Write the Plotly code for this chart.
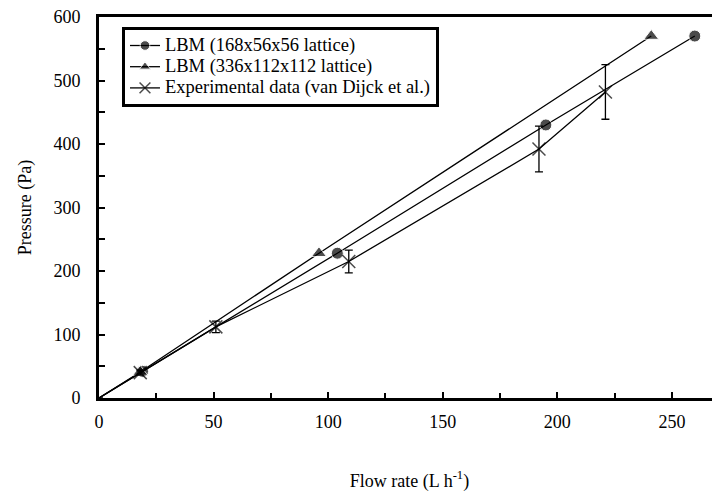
import plotly.graph_objects as go

# LBM 168x56x56 lattice
lbm1_flow = [0, 19, 104, 195, 260]
lbm1_pres = [0, 42, 228, 430, 570]

# LBM 336x112x112 lattice
lbm2_flow = [0, 18, 96, 241]
lbm2_pres = [0, 41, 228, 570]

# Experimental data (van Dijck et al.)
exp_flow = [0, 18, 51, 109, 192, 221]
exp_pres = [0, 40, 112, 215, 392, 482]
exp_err = [0, 4, 9, 18, 36, 43]

series_names = [
    "LBM (168x56x56 lattice)",
    "LBM (336x112x112 lattice)",
    "Experimental data (van Dijck et al.)",
]

x_ticks = [0, 50, 100, 150, 200, 250]
y_ticks = [0, 100, 200, 300, 400, 500, 600]

FONT = "Liberation Serif"


def sizes(n, s):
    return [0] + [s] * (n - 1)


def legend_name(s):
    return '<span style="font-size:18.5px">' + s + "</span>"


fig = go.Figure()
fig.add_trace(go.Scatter(
    x=lbm1_flow, y=lbm1_pres, mode="lines+markers",
    name=legend_name(series_names[0]),
    line=dict(color="black", width=1.3),
    marker=dict(symbol="circle", color="black", size=sizes(len(lbm1_flow), 12)),
))
fig.add_trace(go.Scatter(
    x=lbm2_flow, y=lbm2_pres, mode="lines+markers",
    name=legend_name(series_names[1]),
    line=dict(color="black", width=1.3),
    marker=dict(symbol="triangle-up", color="black", size=sizes(len(lbm2_flow), 13)),
))
fig.add_trace(go.Scatter(
    x=exp_flow, y=exp_pres, mode="lines+markers",
    name=legend_name(series_names[2]),
    line=dict(color="black", width=1.3),
    marker=dict(symbol="x-thin", color="black", size=sizes(len(exp_flow), 13),
                line=dict(color="black", width=1.5)),
    error_y=dict(type="data", array=exp_err, visible=True, color="black",
                 thickness=1.3, width=4),
))

# page body has an 8px margin; figure sized/positioned to compensate
fig.update_layout(
    width=712, height=489,
    margin=dict(l=91, r=0, t=9, b=99, autoexpand=False),
    paper_bgcolor="white", plot_bgcolor="white",
    font=dict(family=FONT, size=18, color="black"),
    showlegend=True,
    legend=dict(
        x=0.037, y=0.974, xanchor="left", yanchor="top",
        bordercolor="black", borderwidth=3, bgcolor="white",
        font=dict(family=FONT, size=14, color="black"),
        itemwidth=30, tracegroupgap=0,
    ),
    xaxis=dict(
        range=[0, 271], tickvals=x_ticks, ticktext=[str(v) for v in x_ticks],
        ticks="inside", ticklen=6, tickwidth=2, tickcolor="black",
        minor=dict(dtick=25, ticks="inside", ticklen=5, tickwidth=2, tickcolor="black"),
        showline=True, linecolor="black", linewidth=3, mirror=True,
        showgrid=False, zeroline=False, automargin=False,
        title=dict(text="Flow rate (L h<sup>-1</sup>)", font=dict(family=FONT, size=18), standoff=44),
        ticklabelstandoff=5, ticklabeloverflow="allow",
        tickfont=dict(family=FONT, size=18),
    ),
    yaxis=dict(
        range=[0, 600], tickvals=y_ticks, ticktext=[str(v) for v in y_ticks],
        ticks="inside", ticklen=6, tickwidth=2, tickcolor="black",
        minor=dict(dtick=50, ticks="inside", ticklen=6, tickwidth=2, tickcolor="black"),
        showline=True, linecolor="black", linewidth=3, mirror=False,
        showgrid=False, zeroline=False, automargin=False,
        title=dict(text="Pressure (Pa)", font=dict(family=FONT, size=18), standoff=18),
        ticklabelstandoff=12, ticklabeloverflow="allow",
        tickfont=dict(family=FONT, size=18),
    ),
)

fig.write_html("out.html")
